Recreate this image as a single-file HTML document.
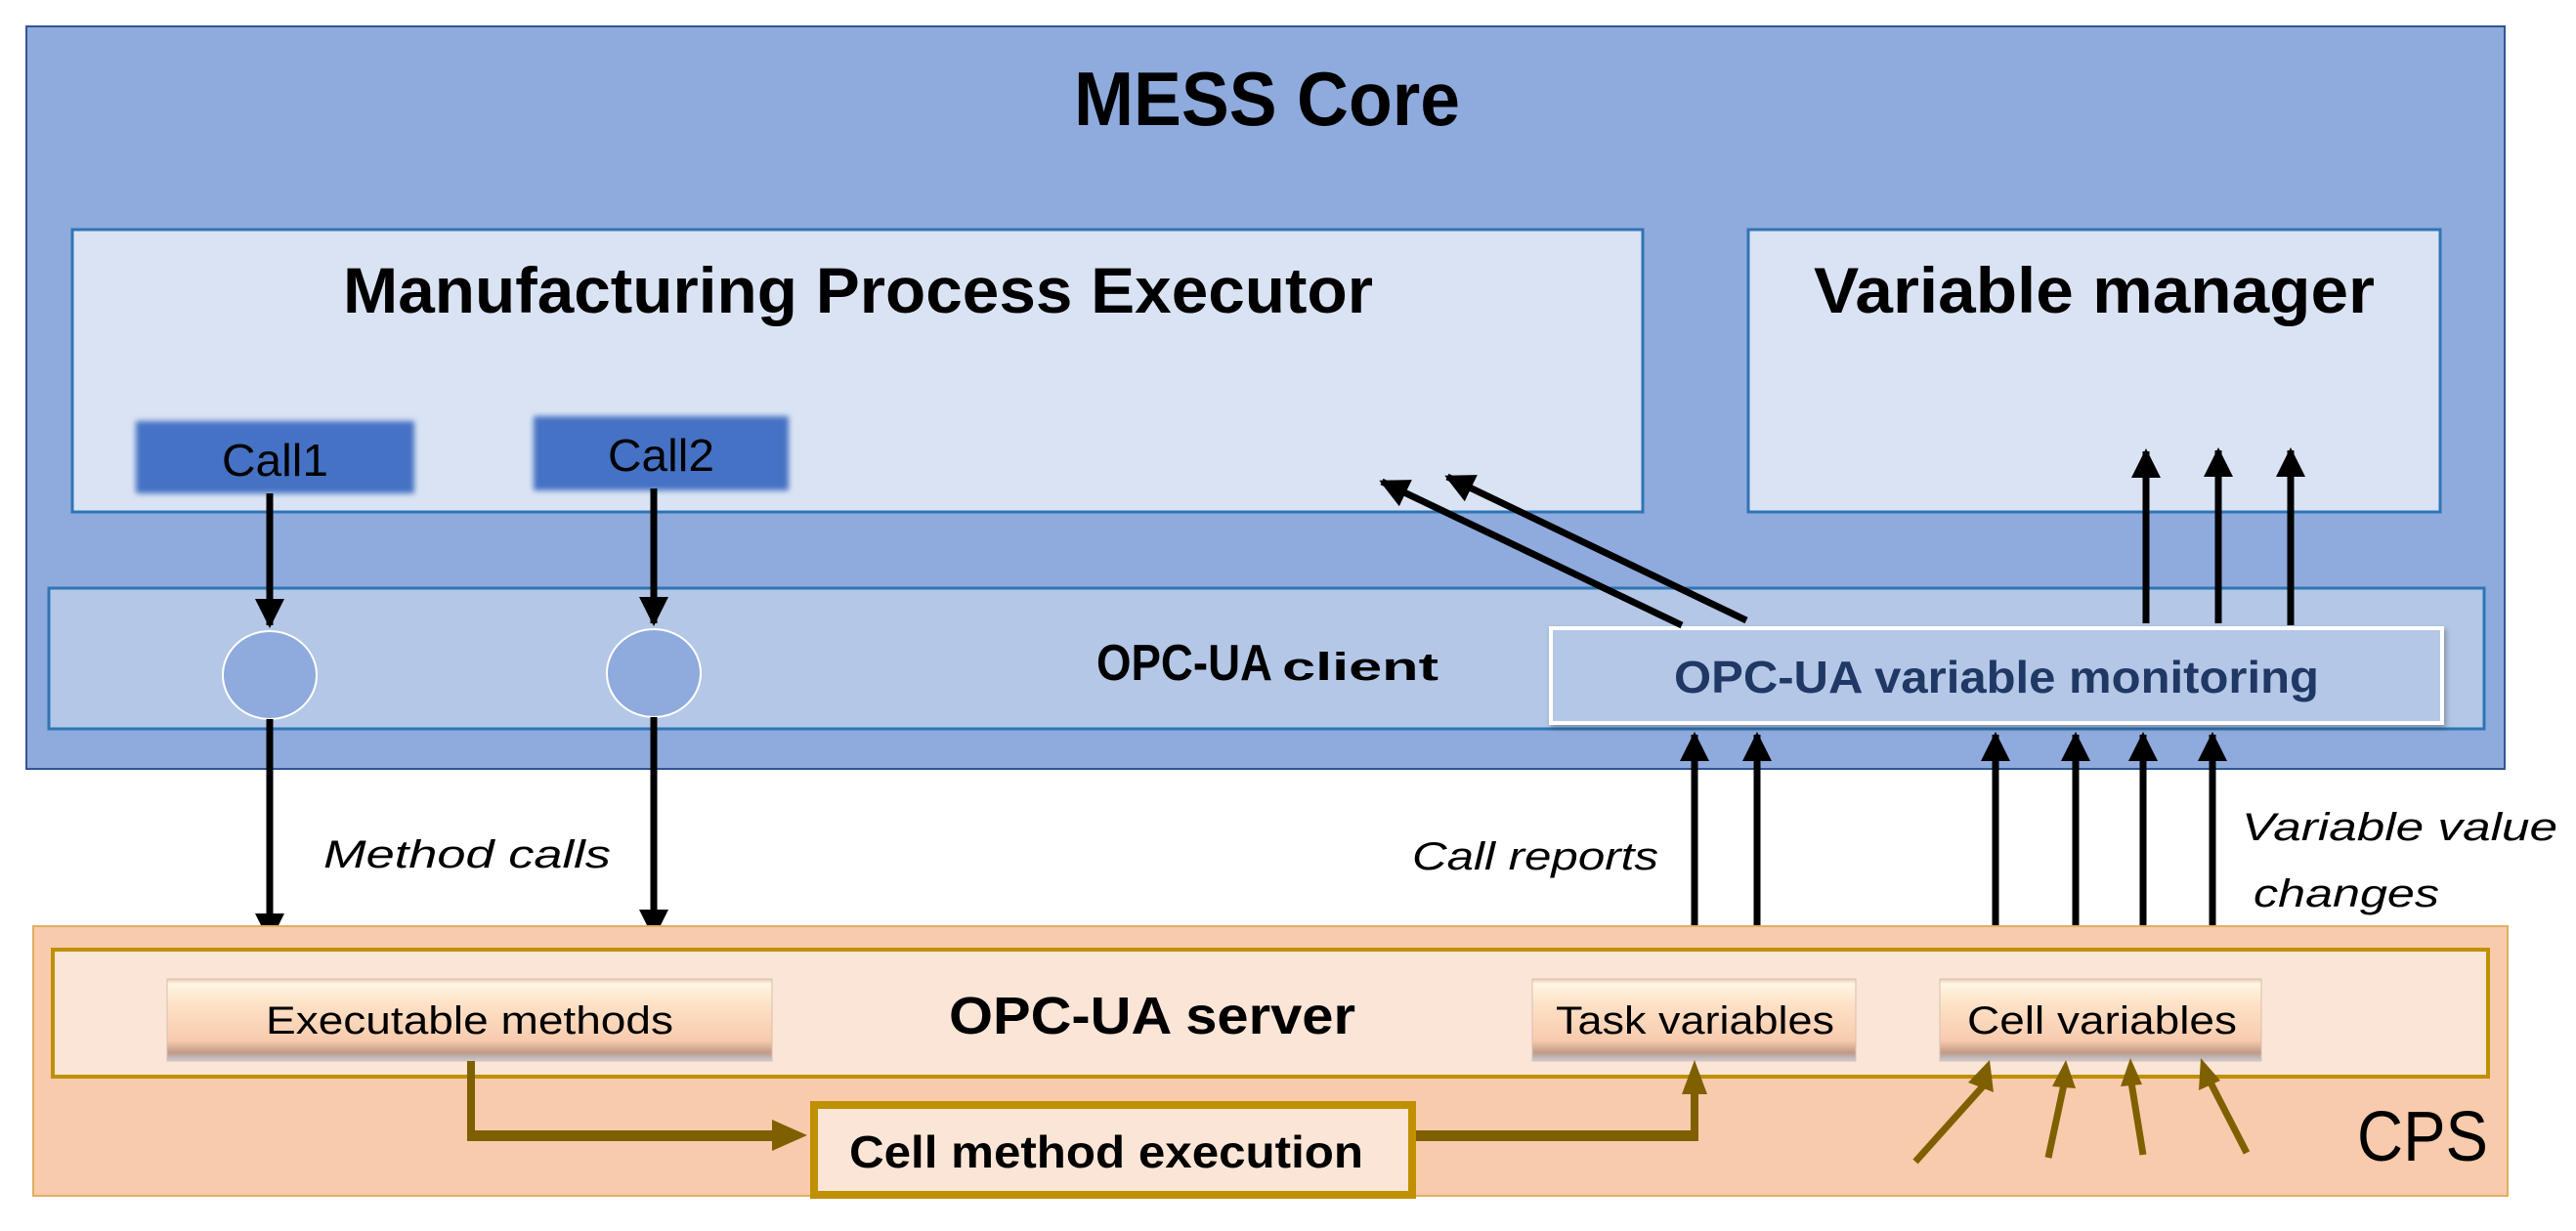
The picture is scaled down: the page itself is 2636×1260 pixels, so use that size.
<!DOCTYPE html>
<html><head><meta charset="utf-8"><style>
html,body{margin:0;padding:0;background:#fff;}
svg{display:block;font-family:"Liberation Sans",sans-serif;}
</style></head><body>
<svg width="2636" height="1260" viewBox="0 0 2636 1260" xmlns="http://www.w3.org/2000/svg">
<defs>
<linearGradient id="bev" x1="0" y1="0" x2="0" y2="1">
<stop offset="0" stop-color="#e6cbb6"/>
<stop offset="0.06" stop-color="#fff6e2"/>
<stop offset="0.3" stop-color="#fde2c8"/>
<stop offset="0.75" stop-color="#f8cbad"/>
<stop offset="0.9" stop-color="#c09a86"/>
<stop offset="1" stop-color="#c4ccdc"/>
</linearGradient>
<filter id="blur" x="-10%" y="-20%" width="120%" height="140%"><feGaussianBlur stdDeviation="3"/></filter>
<filter id="sh" x="-5%" y="-10%" width="110%" height="130%"><feDropShadow dx="2" dy="3" stdDeviation="3" flood-color="#000" flood-opacity="0.3"/></filter>
<marker id="ah" markerWidth="30" markerHeight="30" refX="9" refY="5" orient="auto" markerUnits="userSpaceOnUse" viewBox="0 0 10 10"><path d="M0,0 L10,5 L0,10 Z" fill="#000"/></marker>
</defs>

<rect x="27" y="27" width="2536" height="760" fill="#8faadc" stroke="#2f5597" stroke-width="2"/>
<text x="1099" y="128" font-size="78" font-weight="bold" textLength="395" lengthAdjust="spacingAndGlyphs">MESS Core</text>

<rect x="74" y="235" width="1607" height="289" fill="#dae3f3" stroke="#2e75b6" stroke-width="3"/>
<text x="351" y="320" font-size="66" font-weight="bold" textLength="1054" lengthAdjust="spacingAndGlyphs">Manufacturing Process Executor</text>

<rect x="1789" y="235" width="708" height="289" fill="#dae3f3" stroke="#2e75b6" stroke-width="3"/>
<text x="1856" y="320" font-size="66" font-weight="bold" textLength="574" lengthAdjust="spacingAndGlyphs">Variable manager</text>

<rect x="139" y="431" width="285" height="74" fill="#4472c4" filter="url(#blur)"/>
<text x="227" y="487" font-size="46" textLength="109" lengthAdjust="spacingAndGlyphs">Call1</text>
<rect x="546" y="426" width="261" height="76" fill="#4472c4" filter="url(#blur)"/>
<text x="622" y="482" font-size="46" textLength="109" lengthAdjust="spacingAndGlyphs">Call2</text>

<rect x="50" y="602" width="2492" height="144" fill="#b4c7e7" stroke="#2e75b6" stroke-width="3"/>
<ellipse cx="276" cy="691" rx="48" ry="45" fill="#8faadc" stroke="#fff" stroke-width="2"/>
<ellipse cx="669" cy="689" rx="48" ry="45" fill="#8faadc" stroke="#fff" stroke-width="2"/>
<text x="1122" y="696" font-size="52" font-weight="bold" textLength="180" lengthAdjust="spacingAndGlyphs">OPC-UA</text>
<text x="1312" y="696" font-size="40" font-weight="bold" textLength="160" lengthAdjust="spacingAndGlyphs">client</text>

<rect x="1587" y="643" width="912" height="97" fill="#b4c7e7" stroke="#fff" stroke-width="4" filter="url(#sh)"/>
<text x="1713" y="709" font-size="46" font-weight="bold" fill="#203864" textLength="660" lengthAdjust="spacingAndGlyphs">OPC-UA variable monitoring</text>

<g stroke="#000" stroke-width="7" fill="none" marker-end="url(#ah)">
<line x1="276" y1="505" x2="276" y2="640"/>
<line x1="669" y1="500" x2="669" y2="638"/>
<line x1="276" y1="736" x2="276" y2="962"/>
<line x1="669" y1="734" x2="669" y2="958"/>
<line x1="1721" y1="640" x2="1414" y2="493"/>
<line x1="1787" y1="635" x2="1481" y2="488"/>
<line x1="2196" y1="638" x2="2196" y2="462"/>
<line x1="2270" y1="638" x2="2270" y2="461"/>
<line x1="2344" y1="640" x2="2344" y2="461"/>
<line x1="1734" y1="995" x2="1734" y2="752"/>
<line x1="1798" y1="995" x2="1798" y2="752"/>
<line x1="2042" y1="997" x2="2042" y2="752"/>
<line x1="2124" y1="995" x2="2124" y2="752"/>
<line x1="2193" y1="995" x2="2193" y2="752"/>
<line x1="2264" y1="995" x2="2264" y2="752"/>
</g>

<text x="331" y="888" font-size="40" font-style="italic" textLength="294" lengthAdjust="spacingAndGlyphs">Method calls</text>
<text x="1445" y="890" font-size="40" font-style="italic" textLength="252" lengthAdjust="spacingAndGlyphs">Call reports</text>
<text x="2294" y="860" font-size="40" font-style="italic" textLength="323" lengthAdjust="spacingAndGlyphs">Variable value</text>
<text x="2306" y="928" font-size="40" font-style="italic" textLength="190" lengthAdjust="spacingAndGlyphs">changes</text>

<rect x="34" y="948" width="2532" height="276" fill="#f8cbad" stroke="#e0b060" stroke-width="2"/>
<rect x="54" y="972" width="2492" height="130" fill="#fbe5d6" stroke="#bf9000" stroke-width="4"/>
<text x="2412" y="1188" font-size="72" textLength="134" lengthAdjust="spacingAndGlyphs">CPS</text>

<rect x="171" y="1002" width="619" height="84" fill="url(#bev)" stroke="#d8c0b0" stroke-width="1"/>
<text x="272" y="1058" font-size="40" textLength="417" lengthAdjust="spacingAndGlyphs">Executable methods</text>
<text x="971" y="1058" font-size="54" font-weight="bold" textLength="416" lengthAdjust="spacingAndGlyphs">OPC-UA server</text>
<rect x="1568" y="1002" width="331" height="84" fill="url(#bev)" stroke="#d8c0b0" stroke-width="1"/>
<text x="1592" y="1058" font-size="40" textLength="285" lengthAdjust="spacingAndGlyphs">Task variables</text>
<rect x="1985" y="1002" width="329" height="84" fill="url(#bev)" stroke="#d8c0b0" stroke-width="1"/>
<text x="2013" y="1058" font-size="40" textLength="276" lengthAdjust="spacingAndGlyphs">Cell variables</text>

<rect x="833" y="1131" width="612" height="92" fill="#fbe5d6" stroke="#bf9000" stroke-width="8"/>
<text x="869" y="1195" font-size="46" font-weight="bold" textLength="526" lengthAdjust="spacingAndGlyphs">Cell method execution</text>

<g fill="#7f6000">
<rect x="478" y="1086" width="8" height="82"/>
<rect x="478" y="1157" width="314" height="11"/>
<path d="M790,1146 L826,1162 L790,1178 Z"/>
<rect x="1449" y="1157" width="289" height="11"/>
<rect x="1730" y="1118" width="8" height="50"/>
<path d="M1721,1120 L1734,1085 L1747,1120 Z"/>
</g>
<g stroke="#7f6000" stroke-width="7" fill="none">
<line x1="1960" y1="1189" x2="2029" y2="1112"/>
<line x1="2096" y1="1185" x2="2112" y2="1110"/>
<line x1="2193" y1="1182" x2="2181" y2="1108"/>
<line x1="2299" y1="1180" x2="2262" y2="1108"/>
</g>
<g fill="#7f6000">
<path d="M2014,1108 L2036,1085 L2040,1118 Z"/>
<path d="M2100,1112 L2114,1085 L2124,1114 Z"/>
<path d="M2170,1112 L2180,1083 L2192,1110 Z"/>
<path d="M2250,1116 L2252,1083 L2272,1106 Z"/>
</g>
</svg>
</body></html>
